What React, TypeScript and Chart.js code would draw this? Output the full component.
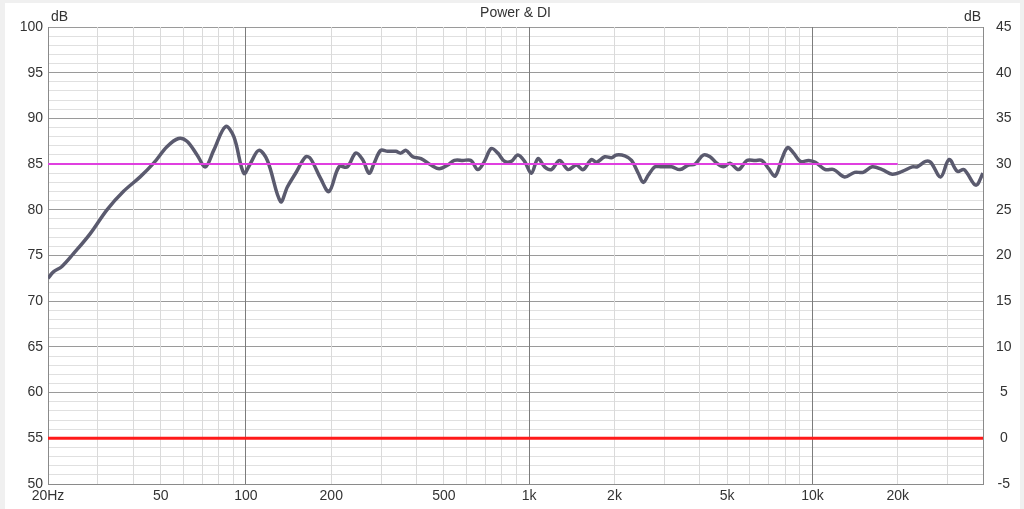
import React, { useEffect, useRef } from "react";
import { Chart, registerables } from "chart.js";

Chart.register(...registerables);

const title = "Power & DI";
const freqs = [
  20, 20.9, 22.4, 24.6, 28.2, 32.3, 36.9, 42.3, 47.2, 52.6, 57.8, 61.9, 67.2, 71.9, 76.9, 84.7, 90.6, 98.3,
  103.8, 111, 119, 132.5, 140, 149.7, 162.5, 169, 183.6, 196.4, 213, 228, 244, 258, 272, 283.5, 299, 316,
  338, 352, 367, 388, 415, 450, 481, 516, 544, 583, 623, 658, 695, 734, 775, 818, 864, 912, 963, 1017,
  1074, 1133, 1197, 1280, 1372, 1467, 1550, 1658, 1727, 1848, 1952, 2033, 2175, 2297, 2426, 2527, 2633,
  2778, 2933, 3183, 3405, 3647, 3849, 4122, 4349, 4593, 4851, 5119, 5483, 5866, 6276, 6628, 7000, 7386,
  7801, 8172, 8582, 9058, 9700, 10236, 11106, 11890, 12986, 14088, 15098, 16246, 17630, 19128, 20748,
  22510, 23448, 25088, 26132, 28352, 30360, 32486, 34310, 37714, 40000,
];
const powerDb = [
  72.5, 73.2, 73.8, 75.2, 77.4, 80.0, 82.0, 83.6, 85.1, 86.9, 87.8, 87.5, 86.0, 84.7, 86.5, 89.1, 88.0, 84.0,
  85.1, 86.5, 85.4, 80.9, 82.5, 84.0, 85.8, 85.6, 83.4, 82.0, 84.7, 84.7, 86.2, 85.5, 84.0, 85.1, 86.5, 86.4,
  86.4, 86.2, 86.5, 85.8, 85.6, 84.9, 84.5, 84.9, 85.4, 85.4, 85.4, 84.4, 85.3, 86.7, 86.2, 85.3, 85.3, 86.0, 85.3, 84.0,
  85.6, 84.7, 84.4, 85.4, 84.4, 84.9, 84.4, 85.5, 85.2, 85.8, 85.7, 86.0, 85.9, 85.4, 84.0, 83.0, 83.8,
  84.7, 84.7, 84.7, 84.4, 84.9, 85.0, 86.0, 85.8, 85.1, 84.7, 85.1, 84.4, 85.4, 85.4, 85.4, 84.5, 83.7,
  85.6, 86.8, 86.2, 85.3, 85.4, 85.2, 84.4, 84.4, 83.6, 84.1, 84.1, 84.7, 84.4, 83.9, 84.2,
  84.7, 84.7, 85.3, 85.2, 83.6, 85.5, 84.2, 84.4, 82.7, 84.0,
];
const refFreqs = [20, 20000];
const refDb = [85, 85];
const diFreqs = [20, 40000];
const diDb = [0, 0];

const xTicks = [
  20, 30, 40, 50, 60, 70, 80, 90, 100, 200, 300, 400, 500, 600, 700, 800, 900, 1000, 2000, 3000, 4000,
  5000, 6000, 7000, 8000, 9000, 10000, 20000, 30000, 40000,
];
const xLabelValues = [20, 50, 100, 200, 500, 1000, 2000, 5000, 10000, 20000];
const xLabelTexts = ["20Hz", "50", "100", "200", "500", "1k", "2k", "5k", "10k", "20k"];
const decades = [100, 1000, 10000];

const FONT = "'Liberation Sans', Arial, sans-serif";
const TEXT = "#333333";

const overlay = {
  id: "overlayText",
  afterDraw(chart: any) {
    const { ctx, chartArea } = chart;
    ctx.save();
    ctx.fillStyle = TEXT;
    ctx.font = `14px ${FONT}`;
    ctx.textBaseline = "middle";
    ctx.textAlign = "center";
    ctx.fillText(title, (chartArea.left + chartArea.right) / 2, 13);
    ctx.textAlign = "left";
    ctx.fillText("dB", chartArea.left + 3, 17);
    ctx.textAlign = "right";
    ctx.fillText("dB", chartArea.right - 2, 17);
    ctx.restore();
  },
};

export default function App() {
  const ref = useRef<HTMLCanvasElement | null>(null);
  useEffect(() => {
    if (!ref.current) return;
    const chart = new Chart(ref.current, {
      type: "line",
      data: {
        datasets: [
          {
            label: "DI",
            data: diFreqs.map((f, i) => ({ x: f, y: diDb[i] })),
            yAxisID: "yR",
            borderColor: "#ff1a1a",
            borderWidth: 3,
            pointRadius: 0,
          },
          {
            label: "Ref",
            data: refFreqs.map((f, i) => ({ x: f, y: refDb[i] })),
            yAxisID: "y",
            borderColor: "#e040e0",
            borderWidth: 2,
            pointRadius: 0,
          },
          {
            label: "Power",
            data: freqs.map((f, i) => ({ x: f, y: powerDb[i] })),
            yAxisID: "y",
            borderColor: "#5a5a6e",
            borderWidth: 3.5,
            pointRadius: 0,
            tension: 0.35,
          },
        ],
      },
      options: {
        animation: false,
        responsive: false,
        maintainAspectRatio: false,
        layout: { padding: { top: 27, left: 0, right: 0, bottom: 0 } },
        plugins: { legend: { display: false }, tooltip: { enabled: false }, title: { display: false } },
        scales: {
          x: {
            type: "logarithmic",
            min: 20,
            max: 40000,
            afterBuildTicks: (scale: any) => {
              scale.ticks = xTicks.map((v) => ({ value: v }));
            },
            afterFit: (scale: any) => {
              scale.height = 25;
            },
            ticks: {
              autoSkip: false,
              maxRotation: 0,
              padding: 4,
              color: TEXT,
              font: { family: FONT, size: 14 },
              callback: (value: any) => {
                const i = xLabelValues.indexOf(Number(value));
                return i >= 0 ? xLabelTexts[i] : "";
              },
            },
            grid: {
              drawTicks: false,
              z: -1,
              color: (ctx: any) => (decades.includes(ctx.tick?.value) ? "#7c7c7c" : "#dadada"),
              lineWidth: 1,
            },
            border: { color: "#8a8a8a" },
          },
          y: {
            position: "left",
            min: 50,
            max: 100,
            afterFit: (scale: any) => {
              scale.width = 48;
            },
            ticks: {
              stepSize: 1,
              autoSkip: false,
              padding: 5,
              color: TEXT,
              font: { family: FONT, size: 14 },
              callback: (value: any) => (Number(value) % 5 === 0 ? String(value) : ""),
            },
            grid: {
              drawTicks: false,
              z: -2,
              color: (ctx: any) => (ctx.tick && ctx.tick.value % 5 === 0 ? "#9a9a9a" : "#e0e0e0"),
            },
            border: { color: "#8a8a8a" },
          },
          yR: {
            position: "right",
            min: -5,
            max: 45,
            afterFit: (scale: any) => {
              scale.width = 41;
            },
            ticks: {
              stepSize: 5,
              padding: 13,
              crossAlign: "center",
              color: TEXT,
              font: { family: FONT, size: 14 },
            },
            grid: { drawOnChartArea: false, drawTicks: false },
            border: { color: "#8a8a8a" },
          },
        },
      },
      plugins: [overlay],
    } as any);
    return () => chart.destroy();
  }, []);

  return (
    <div style={{ position: "fixed", left: 0, top: 0, width: 1024, height: 509, background: "#f0f0f0" }}>
      <div style={{ position: "absolute", left: 5, top: 3, width: 1015, height: 506, background: "#ffffff" }} />
      <canvas ref={ref} width={1024} height={509} style={{ position: "absolute", left: 0, top: 0, width: 1024, height: 509 }} />
    </div>
  );
}
